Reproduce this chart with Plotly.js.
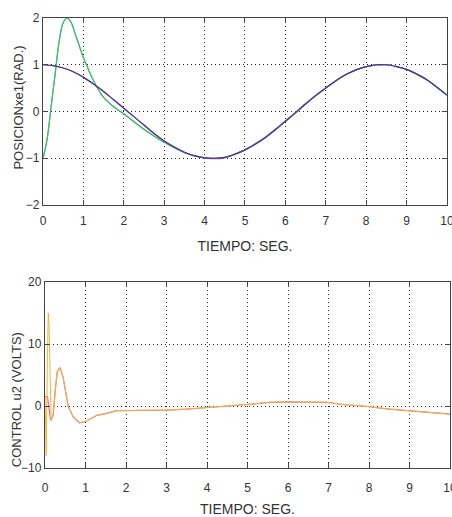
<!DOCTYPE html>
<html>
<head>
<meta charset="utf-8">
<script src="https://cdn.plot.ly/plotly-3.0.1.min.js"></script>
<style>html,body{margin:0;padding:0;background:#fff;}#chart{width:452px;height:517px;}</style>
</head>
<body>
<div id="chart"></div>
<script>
// ---- Position plot (top) ----
const tPos = [0,0.25,0.5,0.75,1,1.25,1.5,1.75,2,2.25,2.5,2.75,3,3.25,3.5,3.75,4,4.25,4.5,4.75,5,5.25,5.5,5.75,6,6.25,6.5,6.75,7,7.25,7.5,7.75,8,8.25,8.5,8.75,9,9.25,9.5,9.75,10];
const posRef = [1.00,0.98,0.93,0.85,0.73,0.59,0.43,0.25,0.07,-0.11,-0.29,-0.47,-0.63,-0.76,-0.87,-0.95,-0.99,-1.00,-0.98,-0.91,-0.82,-0.70,-0.56,-0.39,-0.21,-0.03,0.16,0.34,0.50,0.66,0.79,0.89,0.96,1.00,1.00,0.96,0.90,0.80,0.68,0.52,0.35];
const posReal = [1.00,0.98,0.93,0.85,0.73,0.59,0.43,0.25,0.07,-0.11,-0.29,-0.47,-0.63,-0.76,-0.87,-0.95,-0.99,-1.01,-0.99,-0.92,-0.82,-0.69,-0.55,-0.38,-0.20,-0.02,0.17,0.35,0.51,0.66,0.79,0.89,0.96,1.00,1.00,0.96,0.90,0.80,0.68,0.52,0.35];
const tEst = [0,0.1,0.2,0.3,0.4,0.5,0.6,0.7,0.8,0.9,1.0,1.1,1.2,1.35,1.5,1.75,2.0,2.5,3.0,3.5,4,4.5,5,5.5,6,6.5,7,7.5,8,8.5,9,9.5,10];
const posEst = [-1.0,-0.6,0.1,0.8,1.5,1.9,2.0,1.9,1.65,1.4,1.15,0.95,0.75,0.5,0.3,0.1,-0.05,-0.38,-0.66,-0.88,-0.99,-0.98,-0.82,-0.56,-0.21,0.16,0.50,0.79,0.96,1.00,0.90,0.68,0.35];

// ---- Control plot (bottom) ----
const tU = [0,0.03,0.06,0.08,0.1,0.13,0.15,0.2,0.25,0.3,0.37,0.45,0.57,0.7,0.85,1.0,1.28,1.52,1.77,2.0,2.5,3.0,3.5,4.0,4.5,5.1,5.55,6.0,6.5,6.95,7.4,7.85,8.5,9.17,9.6,10];
const uA = [1.5,-8,8,15,13,-1,-2.3,-1.5,2.5,5.5,6.2,4.5,0,-1.8,-2.7,-2.5,-1.5,-1.2,-0.75,-0.75,-0.7,-0.65,-0.5,-0.3,0,0.3,0.6,0.65,0.65,0.6,0.2,0,-0.5,-0.9,-1.1,-1.3];
const uB = [1.5,1.5,1.5,0.5,-1,-2.0,-2.3,-1.5,2.5,5.5,6.2,4.5,0,-1.8,-2.7,-2.5,-1.5,-1.2,-0.75,-0.75,-0.7,-0.65,-0.5,-0.3,0,0.3,0.6,0.65,0.65,0.6,0.2,0,-0.5,-0.9,-1.1,-1.3];

const xTicks = [0,1,2,3,4,5,6,7,8,9,10];
const posTicks = [-2,-1,0,1,2];
const uTicks = [-10,0,10,20];

const font = {family:'Liberation Sans, Arial, sans-serif', size:12, color:'#333'};
const axBase = {
  showline:true, linecolor:'#444', linewidth:1.2, mirror:'ticks',
  ticks:'inside', ticklen:5, tickcolor:'#444',
  showgrid:true, gridcolor:'#222', griddash:'1px,3px', gridwidth:1,
  zeroline:false, tickfont:{...font}, ticklabeloverflow:'allow'
};

const traces = [
  {x:tEst, y:posEst, xaxis:'x', yaxis:'y', mode:'lines', line:{color:'#40c0d0', width:1.2, shape:'spline'}},
  {x:tEst, y:posEst, xaxis:'x', yaxis:'y', mode:'lines', line:{color:'#4cb860', width:1.2, shape:'spline'}},
  {x:tPos, y:posReal, xaxis:'x', yaxis:'y', mode:'lines', line:{color:'#d050c0', width:1.2, shape:'spline'}},
  {x:tPos, y:posRef, xaxis:'x', yaxis:'y', mode:'lines', line:{color:'#3a3f8f', width:1.2, shape:'spline'}},
  {x:tU, y:uB, xaxis:'x2', yaxis:'y2', mode:'lines', line:{color:'#e7689e', width:1.2}},
  {x:tU, y:uA, xaxis:'x2', yaxis:'y2', mode:'lines', line:{color:'#f2b53a', width:1.0}}
];

const layout = {
  width:452, height:517,
  margin:{l:43, r:2, t:18, b:49},
  paper_bgcolor:'#fff', plot_bgcolor:'#fff',
  showlegend:false,
  font:font,
  xaxis:{...axBase, domain:[0,0.9926], range:[0,10], tickvals:xTicks, anchor:'y', ticklabelstandoff:4,
    title:{text:'TIEMPO: SEG.', font:{...font, size:14}, standoff:14}},
  yaxis:{...axBase, domain:[0.5844,1], range:[-2,2], tickvals:posTicks, anchor:'x'},
  xaxis2:{...axBase, domain:[0.005,1], range:[0,10], tickvals:xTicks, anchor:'y2', ticklabelstandoff:8,
    title:{text:'TIEMPO: SEG.', font:{...font, size:14}, standoff:10}},
  yaxis2:{...axBase, domain:[0,0.4133], range:[-10,20], tickvals:uTicks, anchor:'x2'},
  annotations:[
    {text:'POSICIONxe1(RAD.)', textangle:-90, xref:'paper', yref:'paper', x:-0.06, y:0.80,
     xanchor:'center', yanchor:'middle', showarrow:false, font:{...font, size:13}},
    {text:'CONTROL u2 (VOLTS)', textangle:-90, xref:'paper', yref:'paper', x:-0.065, y:0.152,
     xanchor:'center', yanchor:'middle', showarrow:false, font:{...font, size:13}}
  ]
};

Plotly.newPlot('chart', traces, layout, {displayModeBar:false, staticPlot:true});
</script>
</body>
</html>
